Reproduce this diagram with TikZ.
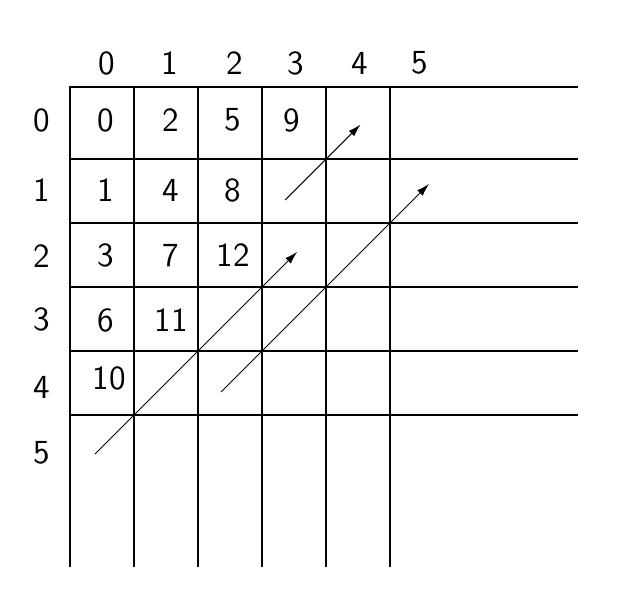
\documentclass[tikz,border=0pt]{standalone}
\usetikzlibrary{arrows.meta}
\begin{document}
\begin{tikzpicture}[font=\fontsize{15}{18}\selectfont\sffamily,
	linea/.style={line width=0.6pt},
	borde/.style={line width=1.1pt},
	flecha/.style={line width=0.45pt, -{Latex[length=2mm,width=1.2mm]}}]
\useasboundingbox (-1.094,1.359) rectangle (8.734,-8.266);

% Cuadricula
	\foreach \x in {1, 2, ..., 5}
		\draw[linea] (\x,0) -- (\x,-7.5);
	\foreach \y in {-1.125, -2.125, ..., -5.125}
		\draw[linea] (0,\y) -- (7.94,\y);
	\draw[borde] (0,-7.5) -- (0,0) -- (7.94,0);

% Indices
	\foreach \x [count=\xi from 0] in {0.57, 1.56, 2.58, 3.52, 4.53, 5.47}
		\node (col\xi) at (\x,0.375) {\xi};
	\foreach \y [count=\yi from 0] in {-0.52, -1.61, -2.65, -3.64, -4.70, -5.72}
		\node (fila\yi) at (-0.44,\y) {\yi};

% Numeracion por diagonales
	\foreach \x/\y/\v in {0.56/-0.52/0, 0.56/-1.61/1, 1.58/-0.52/2,
			0.56/-2.63/3, 1.58/-1.61/4, 2.55/-0.52/5,
			0.56/-3.65/6, 1.58/-2.63/7, 2.55/-1.61/8, 3.47/-0.52/9,
			0.61/-4.55/10, 1.58/-3.65/11, 2.55/-2.63/12}
		\node (n\v) at (\x,\y) {\v};

% Flechas
	\coordinate (a0) at (3.36,-1.766);
	\coordinate (a1) at (4.54,-0.586);
	\coordinate (b0) at (2.36,-4.765);
	\coordinate (b1) at (5.61,-1.515);
	\coordinate (c0) at (0.39,-5.735);
	\coordinate (c1) at (3.55,-2.575);
	\draw[flecha] (a0) -- (a1);
	\draw[flecha] (b0) -- (b1);
	\draw[flecha] (c0) -- (c1);
\end{tikzpicture}
\end{document}
